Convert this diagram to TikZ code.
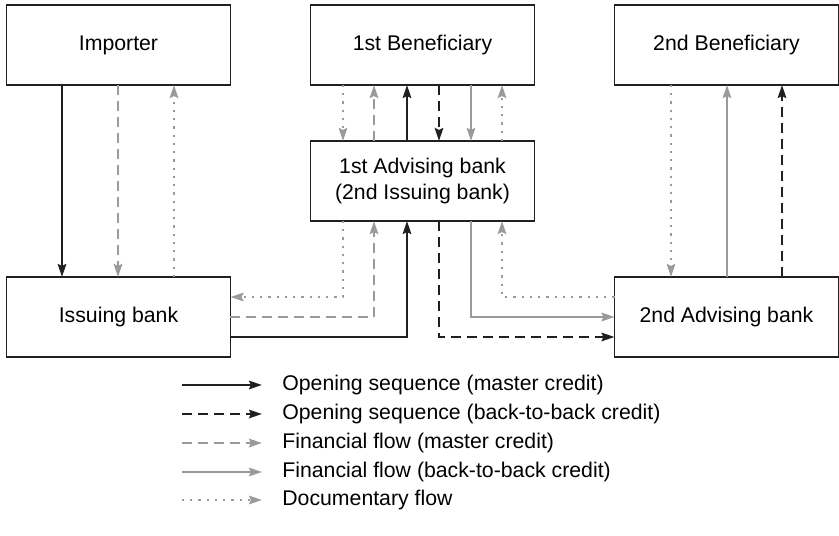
\documentclass[tikz,border=0pt]{standalone}
\usepackage{fontspec}
\setmainfont{Liberation Sans}
\usepackage{tikz}
\usetikzlibrary{arrows.meta}
\usepackage{xcolor}

\definecolor{ink}{HTML}{231F20}
\definecolor{flow}{HTML}{9A9A9A}

\tikzset{
  party/.style={draw=ink, line width=0.6pt, minimum width=4.48cm, minimum height=1.6cm,
    inner sep=0pt, outer sep=0pt, align=center, font=\fontsize{12.1}{14.5}\selectfont},
  legtext/.style={anchor=west, inner sep=0pt, font=\fontsize{12.1}{14}\selectfont},
  tip/.style={-{Stealth[length=0.26cm, width=0.17cm, inset=0.04cm]}},
  opn/.style={tip, ink, line width=1.3pt},
  opnbb/.style={tip, ink, line width=1.3pt, dash pattern=on 0.2cm off 0.12cm},
  finm/.style={tip, flow, line width=1.3pt, dash pattern=on 0.2cm off 0.12cm},
  finbb/.style={tip, flow, line width=1.3pt},
  docf/.style={tip, flow, line width=1.3pt, dash pattern=on 0.045cm off 0.12cm}
}

\begin{document}
\begin{tikzpicture}[x=0.02cm, y=-0.02cm]
\useasboundingbox (0,0) rectangle (839,536);

% parties
\node[party] (imp) at (118.5,45) {Importer};
\node[party] (ben1) at (422.5,45) {1st Beneficiary};
\node[party] (ben2) at (726.5,45) {2nd Beneficiary};
\node[party] (adv1) at (422.5,181) {1st Advising bank\\(2nd Issuing bank)};
\node[party] (iss) at (118.5,317) {Issuing bank};
\node[party] (adv2) at (726.5,317) {2nd Advising bank};

% columns
\coordinate (c1) at (62,0);
\coordinate (c2) at (118,0);
\coordinate (c3) at (174,0);
\coordinate (d1) at (343,0);
\coordinate (d2) at (374,0);
\coordinate (d3) at (407,0);
\coordinate (d4) at (439,0);
\coordinate (d5) at (471,0);
\coordinate (d6) at (502,0);
\coordinate (e1) at (671,0);
\coordinate (e2) at (727,0);
\coordinate (e3) at (782,0);
% rows
\coordinate (r1) at (0,297);
\coordinate (r2) at (0,317);
\coordinate (r3) at (0,337);

% importer -- issuing bank
\draw[opn] (imp.south -| c1) -- (iss.north -| c1);
\draw[finm] (imp.south -| c2) -- (iss.north -| c2);
\draw[docf] (iss.north -| c3) -- (imp.south -| c3);

% 1st beneficiary -- 1st advising bank
\draw[docf] (ben1.south -| d1) -- (adv1.north -| d1);
\draw[finm] (adv1.north -| d2) -- (ben1.south -| d2);
\draw[opn] (adv1.north -| d3) -- (ben1.south -| d3);
\draw[opnbb] (ben1.south -| d4) -- (adv1.north -| d4);
\draw[finbb] (ben1.south -| d5) -- (adv1.north -| d5);
\draw[docf] (adv1.north -| d6) -- (ben1.south -| d6);

% issuing bank -- 1st advising bank
\draw[docf] (adv1.south -| d1) |- (iss.east |- r1);
\draw[finm] (iss.east |- r2) -| (adv1.south -| d2);
\draw[opn] (iss.east |- r3) -| (adv1.south -| d3);

% 1st advising bank -- 2nd advising bank
\draw[opnbb] (adv1.south -| d4) |- (adv2.west |- r3);
\draw[finbb] (adv1.south -| d5) |- (adv2.west |- r2);
\draw[docf] (adv2.west |- r1) -| (adv1.south -| d6);

% 2nd beneficiary -- 2nd advising bank
\draw[docf] (ben2.south -| e1) -- (adv2.north -| e1);
\draw[finbb] (adv2.north -| e2) -- (ben2.south -| e2);
\draw[opnbb] (adv2.north -| e3) -- (ben2.south -| e3);

% legend
\node[legtext] (l1) at (282,385) {Opening sequence (master credit)};
\node[legtext] (l2) at (282,414) {Opening sequence (back-to-back credit)};
\node[legtext] (l3) at (282,443) {Financial flow (master credit)};
\node[legtext] (l4) at (282,472) {Financial flow (back-to-back credit)};
\node[legtext] (l5) at (282,500) {Documentary flow};

\coordinate (a1) at (182,385);
\coordinate (a2) at (182,414);
\coordinate (a3) at (182,443);
\coordinate (a4) at (182,472);
\coordinate (a5) at (182,500);

\draw[opn] (a1) -- ([xshift=-0.4cm]l1.west);
\draw[opnbb] (a2) -- ([xshift=-0.4cm]l2.west);
\draw[finm] (a3) -- ([xshift=-0.4cm]l3.west);
\draw[finbb] (a4) -- ([xshift=-0.4cm]l4.west);
\draw[docf] (a5) -- ([xshift=-0.4cm]l5.west);

\end{tikzpicture}
\end{document}
